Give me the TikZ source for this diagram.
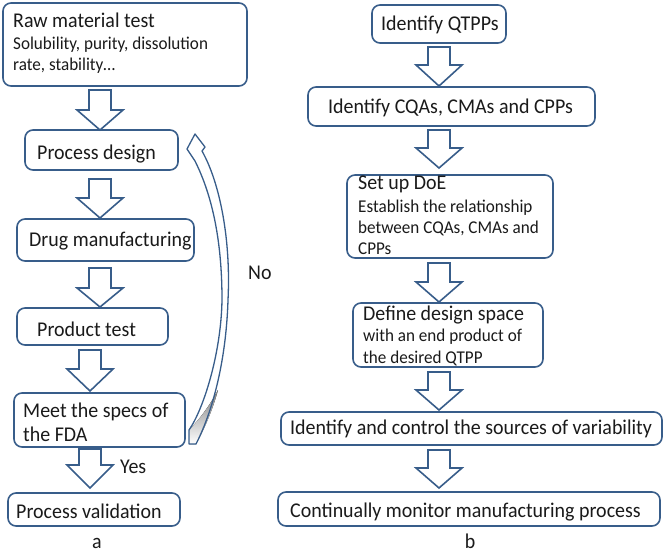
\documentclass[tikz,border=0pt]{standalone}
\usepackage{fontspec}
\setmainfont{Carlito}[FakeStretch=0.95]
\usetikzlibrary{fit}
\definecolor{edge}{HTML}{385D8A}
\definecolor{shade}{HTML}{D4D4D4}
\definecolor{ink}{HTML}{1A1A1A}
\tikzset{
  flowbox/.style={draw=edge, line width=1.6pt, rounded corners=8pt, inner sep=0pt, fill=white},
  big/.style={anchor=base west, inner sep=0pt, text=ink, font=\fontsize{21}{24}\selectfont},
  small/.style={anchor=base west, inner sep=0pt, text=ink, font=\fontsize{18}{20}\selectfont},
  blockarrow/.style={draw=edge, line width=1.6pt, fill=white, line join=miter},
}
\newcommand\barrow[4]{% cx, ytop, yhead, ytip
  \draw[blockarrow] (#1-11,#2) -- (#1+11,#2) -- (#1+11,#3) -- (#1+23,#3) -- (#1,#4)
    -- (#1-23,#3) -- (#1-11,#3) -- cycle;}
\newcommand\returnpath{(195,134) -- (205,147) -- (202,151)
  .. controls (220,183) and (231,240) .. (228,300)
  .. controls (226,365) and (211,415) .. (196,444)
  -- (189,444) -- (189,430)
  .. controls (203,410) and (221,355) .. (222,300)
  .. controls (222,243) and (213,197) .. (195,161)
  -- (187,149) -- cycle}
\begin{document}
\begin{tikzpicture}[x=1pt,y=-1pt]
\useasboundingbox (0,0) rectangle (666,552);
% ---- left column boxes
\node[flowbox, fit={(3,3)(247,86)}] (raw) {};
\node[flowbox, fit={(25,130)(178,170)}] (design) {};
\node[flowbox, fit={(17,219)(194,261)}] (manu) {};
\node[flowbox, fit={(17,308)(168,345)}] (ptest) {};
\node[flowbox, fit={(14,393)(185,447)}] (meet) {};
\node[flowbox, fit={(8,493)(180,526)}] (valid) {};
% ---- right column boxes
\node[flowbox, fit={(372,5)(506,43)}] (qtpp) {};
\node[flowbox, fit={(308,87)(595,126)}] (cqa) {};
\node[flowbox, fit={(347,175)(553,258)}] (doe) {};
\node[flowbox, fit={(353,303)(543,367)}] (space) {};
\node[flowbox, fit={(281,412)(662,445)}] (vari) {};
\node[flowbox, fit={(278,492)(660,526)}] (monitor) {};
% ---- texts left
\node[big] (t1) at (13,27) {Raw material test};
\node[small] (t1b) at (13,49) {Solubility, purity, dissolution};
\node[small] (t1c) at (13,70) {rate, stability…};
\node[big] (t2) at (37,159) {Process design};
\node[big] (t3) at (29,246) {Drug manufacturing};
\node[big] (t4) at (37,336) {Product test};
\node[big] (t5) at (23,417) {Meet the specs of};
\node[big] (t5b) at (23,441) {the FDA};
\node[big] (t6) at (16,518) {Process validation};
\node[big] (yes) at (120,473) {Yes};
\node[big] (no) at (248,279) {No};
\node[anchor=base, inner sep=0pt, text=ink, font=\fontsize{21}{24}\selectfont] (la) at (97,548) {a};
% ---- texts right
\node[big] (r1) at (381,30) {Identify QTPPs};
\node[big] (r2) at (328,113) {Identify CQAs, CMAs and CPPs};
\node[big] (r3) at (358,189) {Set up DoE};
\node[small] (r3b) at (358,212) {Establish the relationship};
\node[small] (r3c) at (358,233) {between CQAs, CMAs and};
\node[small] (r3d) at (358,254) {CPPs};
\node[big] (r4) at (363,320) {Define design space};
\node[small] (r4b) at (363,341) {with an end product of};
\node[small] (r4c) at (363,363) {the desired QTPP};
\node[big] (r5) at (290,434) {Identify and control the sources of variability};
\node[big] (r6) at (290,517) {Continually monitor manufacturing process};
\node[anchor=base, inner sep=0pt, text=ink, font=\fontsize{21}{24}\selectfont] (lb) at (470,548) {b};
% ---- block arrows
\barrow{100}{90}{110}{130}
\barrow{100}{179}{198}{218}
\barrow{100}{268}{288}{307}
\barrow{90}{350}{369}{391}
\barrow{90}{449}{465}{488}
\barrow{439}{47}{65}{86}
\barrow{439}{130}{148}{168}
\barrow{439}{263}{282}{302}
\barrow{439}{372}{390}{410}
\barrow{439}{450}{468}{488}
% ---- curved return arrow (No)
\fill[white] \returnpath;
\fill[shade] (196,444) .. controls (206,426) and (213,408) .. (218,390)
  .. controls (209,407) and (198,421) .. (189,430) -- (189,444) -- cycle;
\draw[edge, line width=1.3pt, line join=round] \returnpath;
\end{tikzpicture}
\end{document}
